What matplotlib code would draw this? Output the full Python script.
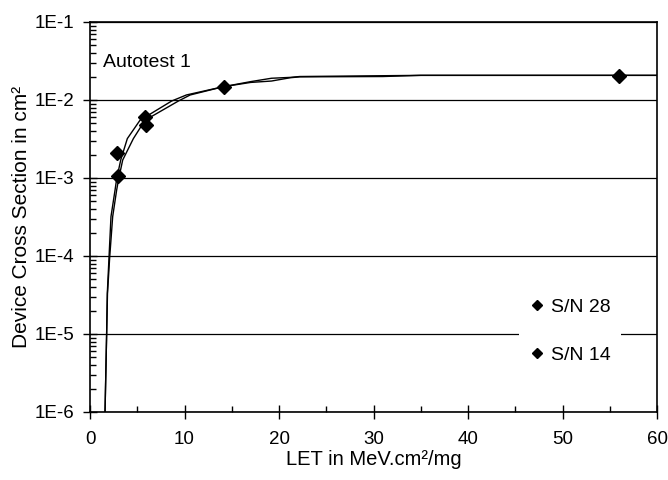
import matplotlib
matplotlib.use("Agg")
import matplotlib.pyplot as plt
from matplotlib.ticker import FixedLocator, LogLocator, NullFormatter

plt.rcParams['font.family'] = ['Liberation Sans', 'DejaVu Sans']

# Measured points
sn28_x = [2.9, 5.8, 14.2, 56.0]
sn28_y = [2.1e-3, 6.1e-3, 1.45e-2, 2.05e-2]
sn14_x = [3.0, 5.9]
sn14_y = [1.05e-3, 4.8e-3]

# Fit curves
fitA_x = [1.59, 1.76, 1.83, 2.01, 2.22, 2.65, 2.82, 3.25, 3.95, 5.29, 8.64, 10.2, 14.1, 17.0, 19.2, 21.2, 22.2, 35.0, 60.0]
fitA_y = [1e-6, 1.0e-5, 3.3e-5, 9.5e-5, 3.2e-4, 7.0e-4, 9.7e-4, 1.7e-3, 3.2e-3, 5.5e-3, 9.7e-3, 1.16e-2, 1.48e-2, 1.72e-2, 1.9e-2, 1.95e-2, 2.0e-2, 2.07e-2, 2.07e-2]
fitB_x = [1.59, 1.76, 1.85, 2.08, 2.40, 2.82, 3.03, 3.46, 4.59, 5.82, 9.35, 10.6, 14.1, 17.0, 19.2, 21.2, 22.2, 31.0, 35.0, 60.0]
fitB_y = [1e-6, 1.0e-5, 3.3e-5, 9.5e-5, 3.2e-4, 7.0e-4, 9.7e-4, 1.7e-3, 3.2e-3, 5.5e-3, 9.7e-3, 1.16e-2, 1.48e-2, 1.68e-2, 1.75e-2, 1.93e-2, 1.98e-2, 2.0e-2, 2.07e-2, 2.07e-2]

x_ticks = [0, 10, 20, 30, 40, 50, 60]
y_ticks = [1e-6, 1e-5, 1e-4, 1e-3, 1e-2, 1e-1]
y_labels = ['1E-6', '1E-5', '1E-4', '1E-3', '1E-2', '1E-1']

fig = plt.figure(figsize=(6.68, 4.8), dpi=100)
ax = fig.add_axes([90/668, 1-412/480, 567/668, 390/480])
ax.set_yscale('log')
ax.set_xlim(0, 60)
ax.set_ylim(1e-6, 1e-1)

for yv in y_ticks:
    ax.axhline(yv, color='black', lw=0.9, zorder=1)

ax.plot(fitA_x, fitA_y, color='black', lw=1.0, zorder=2)
ax.plot(fitB_x, fitB_y, color='black', lw=1.0, zorder=2)
ax.plot(sn28_x, sn28_y, linestyle='none', marker='D', color='black', ms=7, label='S/N 28', zorder=3)
ax.plot(sn14_x, sn14_y, linestyle='none', marker='D', color='black', ms=7, label='S/N 14', zorder=3)

ax.set_xticks(x_ticks)
ax.xaxis.set_minor_locator(FixedLocator([5, 15, 25, 35, 45, 55]))
ax.set_yticks(y_ticks)
ax.set_yticklabels(y_labels)
ax.yaxis.set_minor_locator(LogLocator(base=10, subs=range(2, 10), numticks=20))
ax.yaxis.set_minor_formatter(NullFormatter())
ax.tick_params(which='major', direction='inout', length=10, width=1, labelsize=13.5, colors='black')
ax.tick_params(which='minor', direction='in', length=4, width=1)
ax.tick_params(axis='x', which='major', pad=9)
ax.tick_params(axis='y', which='major', pad=6)

for s in ax.spines.values():
    s.set_linewidth(1.2)
    s.set_color('black')

ax.set_xlabel('LET in MeV.cm²/mg', fontsize=14.5, labelpad=1)
ax.set_ylabel('Device Cross Section in cm²', fontsize=15, labelpad=3)
ax.text(0.023, 0.897, 'Autotest 1', transform=ax.transAxes, fontsize=14, va='center', ha='left')

leg = ax.legend(loc='center', bbox_to_anchor=((519-90)/567, (412-379)/390, (621-519)/567, (379-283)/390),
                mode='expand', frameon=True, fancybox=False, edgecolor='none', facecolor='white',
                framealpha=1, fontsize=14, markerscale=0.75, handlelength=0.6, handletextpad=0.45,
                labelspacing=1.57, borderpad=0.6, borderaxespad=0)

fig.savefig('out.png', dpi=100)
